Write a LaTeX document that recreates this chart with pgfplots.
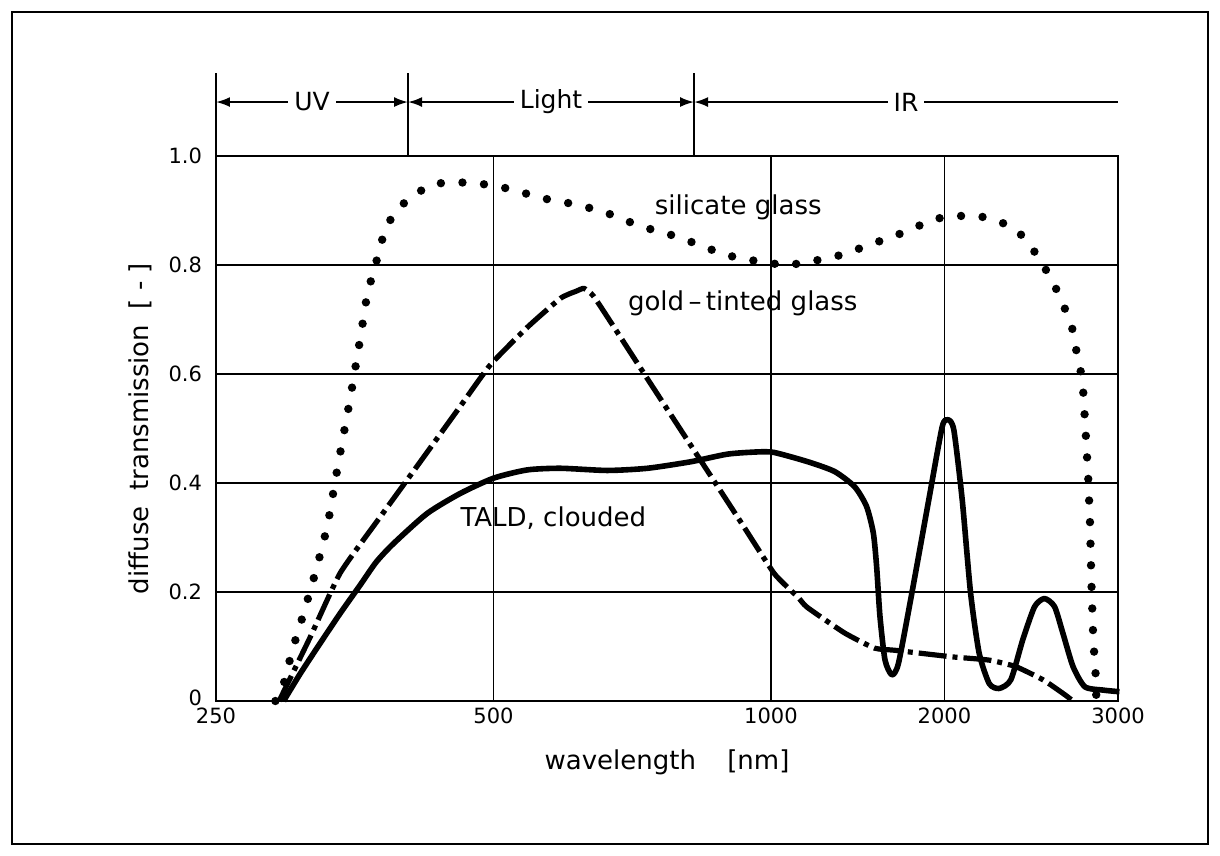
\documentclass[border=0pt]{standalone}
\usepackage{pgfplots}
\pgfplotsset{compat=1.18}
\usepackage{pgfplotstable}
\usepackage{fontspec}
\setmainfont{DejaVu Sans}
\usetikzlibrary{arrows.meta}

\pgfplotstableread{
x y
290 0.0
294 0.011
302.6 0.094
312 0.167
321.6 0.245
330.3 0.321
339.5 0.438
349.6 0.555
359.1 0.673
365.1 0.751
371.2 0.791
376.2 0.829
381.6 0.867
392.3 0.901
409 0.928
430 0.949
454 0.952
480 0.950
507 0.944
533 0.935
562 0.923
594 0.916
624 0.908
656 0.899
690 0.884
728 0.869
767 0.859
806 0.847
850 0.832
894 0.818
944 0.810
996 0.803
1110 0.800
1235 0.807
1357 0.814
1472 0.826
1591 0.840
1709 0.853
1828 0.869
1944 0.885
2075 0.890
2191 0.890
2306 0.881
2416 0.863
2499 0.831
2568 0.797
2630 0.761
2678 0.727
2726 0.689
2750 0.647
2776 0.609
2792 0.569
2807 0.489
2821 0.409
2831 0.329
2840 0.210
2850 0.112
2863 0.051
2867 0.010
}\silicate

\pgfplotstableread{
x y
292.7 0.0
316.3 0.117
341 0.235
376.9 0.338
416.5 0.439
460.4 0.541
496.3 0.617
544.4 0.686
591.3 0.739
615 0.752
627 0.757
642.6 0.742
687.1 0.667
740.6 0.582
839.3 0.441
927.8 0.328
1019 0.234
1154 0.191
1208 0.172
1422 0.125
1595 0.097
1713 0.093
2040 0.081
2253 0.075
2406 0.063
2561 0.039
2676 0.014
2734 0.0
}\gold

\pgfplotstableread{
x y
296 0.0
308.5 0.050
324.3 0.106
341 0.161
358.5 0.213
373.1 0.255
389.6 0.289
423.6 0.344
460.4 0.381
500.4 0.409
544 0.424
591.3 0.427
664.6 0.423
734.5 0.427
818.6 0.439
897.4 0.453
967.3 0.457
1019 0.456
1212 0.439
1366 0.421
1481 0.393
1549 0.357
1588 0.308
1607 0.246
1626 0.155
1655 0.075
1694 0.048
1732 0.069
1809 0.198
1906 0.369
1983 0.503
2017 0.516
2050 0.497
2098 0.369
2146 0.198
2195 0.088
2253 0.032
2310 0.023
2377 0.039
2445 0.112
2513 0.173
2570 0.188
2628 0.173
2676 0.124
2734 0.063
2802 0.026
2907 0.020
3000 0.017
}\tald

\begin{document}
\begin{tikzpicture}
\path[use as bounding box] (-108pt,-77.5pt) rectangle (502pt,350.5pt);
\draw[line width=1pt] (-102pt,-71.5pt) rectangle (496pt,344.5pt);
\begin{axis}[
  at={(0pt,0pt)}, anchor=south west,
  scale only axis, width=451pt, height=272.5pt,
  xmin=250, xmax=3000, ymin=0, ymax=1,
  x coord trafo/.code={\pgfmathparse{ifthenelse(#1<=1000, ln(#1/250)/ln(2), 2+(#1-1000)*0.00062816)}},
  xtick={250,500,1000,2000,3000},
  xticklabels={250,500,1000,2000,3000},
  ytick={0,0.2,0.4,0.6,0.8,1.0},
  yticklabels={\raisebox{3.5pt}{0},0.2,0.4,0.6,0.8,1.0},
  major tick length=0pt,
  grid=major,
  grid style={line width=0.75pt, black},
  axis line style={line width=1.4pt},
  tick label style={font=\fontsize{10.5}{12}\selectfont},
  yticklabel style={xshift=-3.5pt},
  label style={font=\fontsize{13}{15}\selectfont},
  xlabel={wavelength\hspace{1.2em}[nm]},
  ylabel={diffuse\hspace{0.6em}transmission\hspace{0.6em}[ - ]},
  xlabel style={at={(axis description cs:0.5,-0.112)}, anchor=center},
  ylabel style={at={(axis description cs:-0.0843,0.5)}, anchor=center},
  clip=false,
]
\addplot[line width=4.2pt, line cap=round, dash pattern=on 0pt off 10.8pt] table {\silicate};
\addplot[line width=2.6pt, smooth, tension=0.3, dash pattern=on 14pt off 3pt on 2.5pt off 3pt] table {\gold};
\addplot[line width=2.8pt, smooth, tension=0.4, line join=round] table {\tald};

\node[font=\fontsize{13}{15}\selectfont] at (rel axis cs:0.579,0.906) {silicate glass};
\node[font=\fontsize{13}{15}\selectfont] at (rel axis cs:0.584,0.730) {gold\,--\,tinted glass};
\node[font=\fontsize{13}{15}\selectfont] at (rel axis cs:0.374,0.336) {TALD, clouded};

\draw[line width=1pt] (rel axis cs:0,1) -- (rel axis cs:0,1.152);
\draw[line width=1pt] (rel axis cs:0.2129,1) -- (rel axis cs:0.2129,1.152);
\draw[line width=1pt] (rel axis cs:0.530,1) -- (rel axis cs:0.530,1.152);
\draw[line width=1pt, {Latex[length=7pt,width=5pt]}-{Latex[length=7pt,width=5pt]}] (rel axis cs:0,1.099) -- node[fill=white, inner sep=3pt, font=\fontsize{12.5}{14}\selectfont]{UV} (rel axis cs:0.2129,1.099);
\draw[line width=1pt, {Latex[length=7pt,width=5pt]}-{Latex[length=7pt,width=5pt]}] (rel axis cs:0.2129,1.099) -- node[fill=white, inner sep=3pt, font=\fontsize{12.5}{14}\selectfont]{Light} (rel axis cs:0.530,1.099);
\draw[line width=1pt, {Latex[length=7pt,width=5pt]}-] (rel axis cs:0.530,1.099) -- node[fill=white, inner sep=3pt, font=\fontsize{12.5}{14}\selectfont]{IR} (rel axis cs:1,1.099);
\end{axis}
\end{tikzpicture}
\end{document}
